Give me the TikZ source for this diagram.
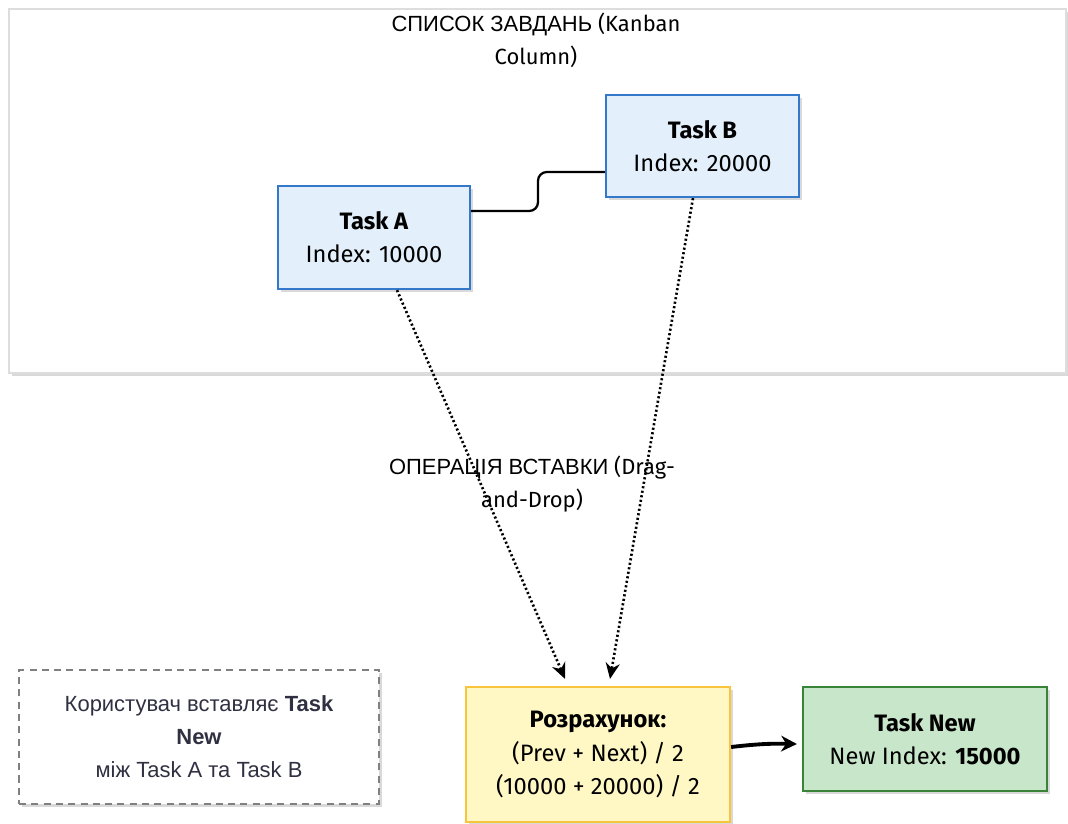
\documentclass[tikz,border=0pt]{standalone}
\usepackage{fontspec}
\setmainfont{Fira Sans}
\newfontfamily\cyrfont{Liberation Sans}
\usetikzlibrary{calc,arrows.meta,shadows}

\definecolor{TaskBlueFill}{RGB}{227,240,251}
\definecolor{TaskBlueLine}{RGB}{52,120,204}
\definecolor{CalcFill}{RGB}{255,248,196}
\definecolor{CalcLine}{RGB}{248,196,60}
\definecolor{NewFill}{RGB}{200,230,201}
\definecolor{NewLine}{RGB}{58,132,58}
\definecolor{FrameGrey}{RGB}{221,221,221}
\definecolor{NoteGrey}{RGB}{128,128,128}
\definecolor{NoteText}{RGB}{48,48,66}

\begin{document}
\begin{tikzpicture}[x=0.02cm, y=-0.02cm,
    softshadow/.style={drop shadow={shadow xshift=1.5pt, shadow yshift=-1.5pt, opacity=0.15, fill=black}},
    labeltext/.style={font=\fontsize{12.5}{18.8}\selectfont, align=center},
    boxtext/.style={font=\fontsize{13.5}{18.8}\selectfont, align=center},
    taskbox/.style={draw=TaskBlueLine, fill=TaskBlueFill, line width=1.3pt, softshadow, boxtext},
    link/.style={line width=1.3pt, rounded corners=5pt},
    moveto/.style={line width=1.5pt, dash pattern=on 1.2pt off 1.4pt, -{Stealth[length=9pt, width=8pt]}}]
    \useasboundingbox (0,0) rectangle (1068,823);

    % Kanban column frame with its title
    \node[draw=FrameGrey, fill=white, line width=1.2pt, softshadow, minimum width=21.14cm, minimum height=7.28cm] (column) at (537.5,191) {};
    \node[labeltext] (columntitle) at (536,40) {{\cyrfont СПИСОК ЗАВДАНЬ} (Kanban\\Column)};

    % Tasks already in the column
    \node[taskbox, minimum width=3.84cm, minimum height=2.06cm] (taskA) at (374,237.5) {\textbf{Task A}\\Index: 10000};
    \node[taskbox, minimum width=3.86cm, minimum height=2.04cm] (taskB) at (702.5,146) {\textbf{Task B}\\Index: 20000};
    \coordinate (bend) at (538,190);
    \draw[link] ($(taskA.east)+(0,-26.5)$) -| (bend) |- ($(taskB.west)+(0,26)$);

    % Calculation and result
    \node[draw=CalcLine, fill=CalcFill, line width=1.3pt, softshadow, boxtext, minimum width=5.28cm, minimum height=2.7cm] (calc) at (598,754.5) {\textbf{Розрахунок:}\\(Prev + Next) / 2\\(10000 + 20000) / 2};
    \node[draw=NewLine, fill=NewFill, line width=1.3pt, softshadow, boxtext, minimum width=4.88cm, minimum height=2.08cm] (newtask) at (925,739) {\textbf{Task New}\\New Index: \textbf{15000}};

    % Drag-and-drop operation
    \draw[moveto] ($(taskA.south)+(23,0)$) -- ($(calc.north)+(-33,-7)$);
    \draw[moveto] ($(taskB.south)+(-9.5,0)$) -- ($(calc.north)+(12,-7)$);
    \node[labeltext] (droplabel) at (532,484) {{\cyrfont ОПЕРАЦІЯ ВСТАВКИ} (Drag-\\and-Drop)};
    \draw[line width=2.2pt, -{Stealth[length=9pt, width=9pt]}] ($(calc.east)+(0,-7.5)$) to[bend left=4] ($(newtask.west)+(-5,5)$);

    % User note
    \node[draw=NoteGrey, dash pattern=on 4pt off 3pt, line width=0.8pt, fill=white, softshadow, minimum width=7.2cm, minimum height=2.68cm, font=\cyrfont\fontsize{12.5}{18.8}\selectfont, align=center, text=NoteText] (note) at (199,737) {Користувач вставляє \textbf{Task}\\\textbf{New}\\між Task A та Task B};
\end{tikzpicture}
\end{document}
